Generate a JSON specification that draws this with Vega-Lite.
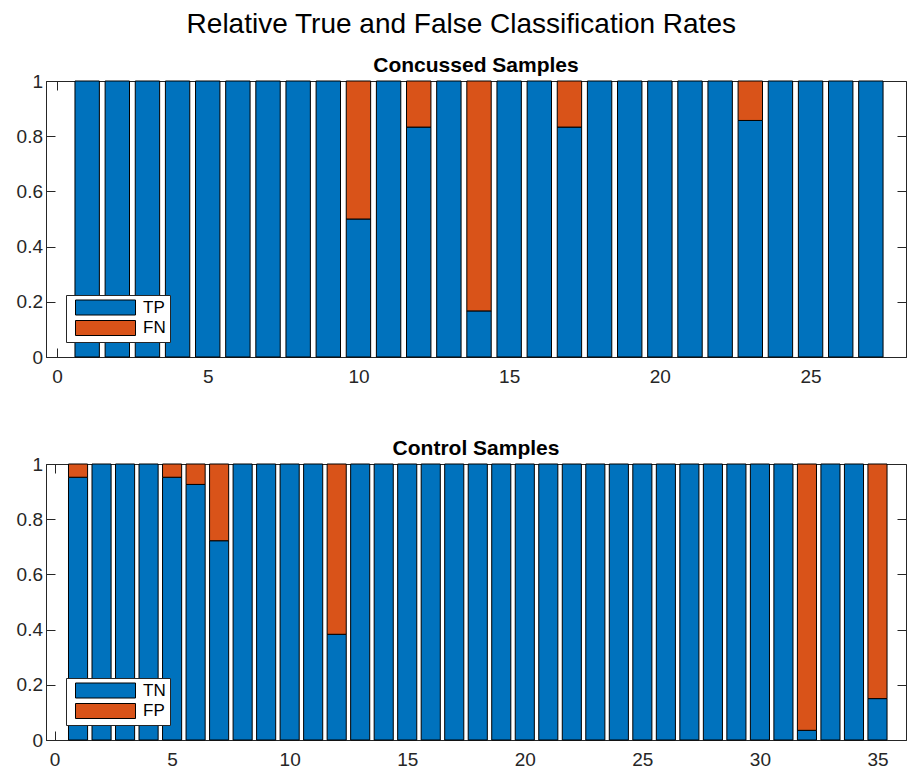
{
  "$schema": "https://vega.github.io/schema/vega-lite/v6.json",
  "autosize": "pad",
  "padding": {"left": 15, "top": 11, "right": 0, "bottom": 0},
  "bounds": "flush",
  "spacing": 107,
  "background": "white",
  "title": {"text": "Relative True and False Classification Rates", "fontSize": 28, "fontWeight": "normal", "font": "Liberation Sans", "color": "#000", "anchor": "middle", "offset": 15},
  "datasets": {
    "concussed": [
      {"sample": 1, "rate": 1, "class": "TP"},
      {"sample": 2, "rate": 1, "class": "TP"},
      {"sample": 3, "rate": 1, "class": "TP"},
      {"sample": 4, "rate": 1, "class": "TP"},
      {"sample": 5, "rate": 1, "class": "TP"},
      {"sample": 6, "rate": 1, "class": "TP"},
      {"sample": 7, "rate": 1, "class": "TP"},
      {"sample": 8, "rate": 1, "class": "TP"},
      {"sample": 9, "rate": 1, "class": "TP"},
      {"sample": 10, "rate": 0.5, "class": "TP"},
      {"sample": 10, "rate": 0.5, "class": "FN"},
      {"sample": 11, "rate": 1, "class": "TP"},
      {"sample": 12, "rate": 0.833, "class": "TP"},
      {"sample": 12, "rate": 0.167, "class": "FN"},
      {"sample": 13, "rate": 1, "class": "TP"},
      {"sample": 14, "rate": 0.167, "class": "TP"},
      {"sample": 14, "rate": 0.833, "class": "FN"},
      {"sample": 15, "rate": 1, "class": "TP"},
      {"sample": 16, "rate": 1, "class": "TP"},
      {"sample": 17, "rate": 0.833, "class": "TP"},
      {"sample": 17, "rate": 0.167, "class": "FN"},
      {"sample": 18, "rate": 1, "class": "TP"},
      {"sample": 19, "rate": 1, "class": "TP"},
      {"sample": 20, "rate": 1, "class": "TP"},
      {"sample": 21, "rate": 1, "class": "TP"},
      {"sample": 22, "rate": 1, "class": "TP"},
      {"sample": 23, "rate": 0.857, "class": "TP"},
      {"sample": 23, "rate": 0.143, "class": "FN"},
      {"sample": 24, "rate": 1, "class": "TP"},
      {"sample": 25, "rate": 1, "class": "TP"},
      {"sample": 26, "rate": 1, "class": "TP"},
      {"sample": 27, "rate": 1, "class": "TP"}
    ],
    "control": [
      {"sample": 1, "rate": 0.952, "class": "TN"},
      {"sample": 1, "rate": 0.048, "class": "FP"},
      {"sample": 2, "rate": 1, "class": "TN"},
      {"sample": 3, "rate": 1, "class": "TN"},
      {"sample": 4, "rate": 1, "class": "TN"},
      {"sample": 5, "rate": 0.952, "class": "TN"},
      {"sample": 5, "rate": 0.048, "class": "FP"},
      {"sample": 6, "rate": 0.926, "class": "TN"},
      {"sample": 6, "rate": 0.074, "class": "FP"},
      {"sample": 7, "rate": 0.722, "class": "TN"},
      {"sample": 7, "rate": 0.278, "class": "FP"},
      {"sample": 8, "rate": 1, "class": "TN"},
      {"sample": 9, "rate": 1, "class": "TN"},
      {"sample": 10, "rate": 1, "class": "TN"},
      {"sample": 11, "rate": 1, "class": "TN"},
      {"sample": 12, "rate": 0.383, "class": "TN"},
      {"sample": 12, "rate": 0.617, "class": "FP"},
      {"sample": 13, "rate": 1, "class": "TN"},
      {"sample": 14, "rate": 1, "class": "TN"},
      {"sample": 15, "rate": 1, "class": "TN"},
      {"sample": 16, "rate": 1, "class": "TN"},
      {"sample": 17, "rate": 1, "class": "TN"},
      {"sample": 18, "rate": 1, "class": "TN"},
      {"sample": 19, "rate": 1, "class": "TN"},
      {"sample": 20, "rate": 1, "class": "TN"},
      {"sample": 21, "rate": 1, "class": "TN"},
      {"sample": 22, "rate": 1, "class": "TN"},
      {"sample": 23, "rate": 1, "class": "TN"},
      {"sample": 24, "rate": 1, "class": "TN"},
      {"sample": 25, "rate": 1, "class": "TN"},
      {"sample": 26, "rate": 1, "class": "TN"},
      {"sample": 27, "rate": 1, "class": "TN"},
      {"sample": 28, "rate": 1, "class": "TN"},
      {"sample": 29, "rate": 1, "class": "TN"},
      {"sample": 30, "rate": 1, "class": "TN"},
      {"sample": 31, "rate": 1, "class": "TN"},
      {"sample": 32, "rate": 0.035, "class": "TN"},
      {"sample": 32, "rate": 0.965, "class": "FP"},
      {"sample": 33, "rate": 1, "class": "TN"},
      {"sample": 34, "rate": 1, "class": "TN"},
      {"sample": 35, "rate": 0.15, "class": "TN"},
      {"sample": 35, "rate": 0.85, "class": "FP"}
    ]
  },
  "resolve": {"scale": {"color": "independent", "x": "independent", "y": "independent"}, "legend": {"color": "independent"}},
  "vconcat": [
    {
      "width": 860,
      "height": 276,
      "title": {"text": "Concussed Samples"},
      "data": {"name": "concussed"},
      "resolve": {"axis": {"x": "independent", "y": "independent"}},
      "layer": [
        {
          "mark": {"type": "bar", "size": 24.4, "stroke": "#000", "strokeWidth": 1},
          "encoding": {
            "x": {"field": "sample", "type": "quantitative", "scale": {"domain": [-0.2, 28], "nice": false, "zero": false}, "axis": {"values": [0, 5, 10, 15, 20, 25], "format": "d"}},
            "y": {"field": "rate", "type": "quantitative", "stack": "zero", "scale": {"domain": [0, 1], "nice": false}, "axis": {"values": [0, 0.2, 0.4, 0.6, 0.8, 1], "format": "~g"}},
            "color": {"field": "class", "type": "nominal", "scale": {"domain": ["TP", "FN"], "range": ["#0072BD", "#D95319"]}, "legend": {"orient": "none", "legendX": 20, "legendY": 214}},
            "order": {"field": "class", "sort": "descending"}
          }
        },
        {
          "mark": {"type": "bar", "size": 24.4, "opacity": 0},
          "encoding": {
            "x": {"field": "sample", "type": "quantitative", "axis": {"orient": "top", "values": [0, 5, 10, 15, 20, 25], "labels": false, "domain": false}},
            "y": {"field": "rate", "type": "quantitative", "stack": "zero", "axis": {"orient": "right", "values": [0, 0.2, 0.4, 0.6, 0.8, 1], "labels": false, "domain": false}},
            "order": {"field": "class", "sort": "descending"}
          }
        }
      ]
    },
    {
      "width": 860,
      "height": 276,
      "title": {"text": "Control Samples"},
      "data": {"name": "control"},
      "resolve": {"axis": {"x": "independent", "y": "independent"}},
      "layer": [
        {
          "mark": {"type": "bar", "size": 19.1, "stroke": "#000", "strokeWidth": 1},
          "encoding": {
            "x": {"field": "sample", "type": "quantitative", "scale": {"domain": [-0.15, 36], "nice": false, "zero": false}, "axis": {"values": [0, 5, 10, 15, 20, 25, 30, 35], "format": "d"}},
            "y": {"field": "rate", "type": "quantitative", "stack": "zero", "scale": {"domain": [0, 1], "nice": false}, "axis": {"values": [0, 0.2, 0.4, 0.6, 0.8, 1], "format": "~g"}},
            "color": {"field": "class", "type": "nominal", "scale": {"domain": ["TN", "FP"], "range": ["#0072BD", "#D95319"]}, "legend": {"orient": "none", "legendX": 20, "legendY": 214}},
            "order": {"field": "class", "sort": "descending"}
          }
        },
        {
          "mark": {"type": "bar", "size": 19.1, "opacity": 0},
          "encoding": {
            "x": {"field": "sample", "type": "quantitative", "axis": {"orient": "top", "values": [0, 5, 10, 15, 20, 25, 30, 35], "labels": false, "domain": false}},
            "y": {"field": "rate", "type": "quantitative", "stack": "zero", "axis": {"orient": "right", "values": [0, 0.2, 0.4, 0.6, 0.8, 1], "labels": false, "domain": false}},
            "order": {"field": "class", "sort": "descending"}
          }
        }
      ]
    }
  ],
  "config": {
    "font": "Liberation Sans",
    "view": {"stroke": "#262626", "strokeWidth": 1},
    "axis": {"title": null, "grid": false, "domainColor": "#262626", "tickColor": "#262626", "labelColor": "#262626", "labelFont": "Liberation Sans", "labelFontSize": 19, "tickSize": -9},
    "axisX": {"labelPadding": 19.5},
    "axisY": {"labelPadding": 12.5},
    "title": {"fontSize": 21, "fontWeight": "bold", "font": "Liberation Sans", "color": "#000", "offset": -3.5},
    "legend": {"title": null, "fillColor": "white", "strokeColor": "#262626", "padding": 4, "labelFont": "Liberation Sans", "labelFontSize": 17, "labelColor": "#000", "symbolType": "M-4,-1H4V1H-4Z", "symbolSize": 225, "symbolOffset": 27, "symbolStrokeColor": "#000", "symbolStrokeWidth": 1, "symbolOpacity": 1, "rowPadding": 1.5, "labelOffset": 29}
  }
}
